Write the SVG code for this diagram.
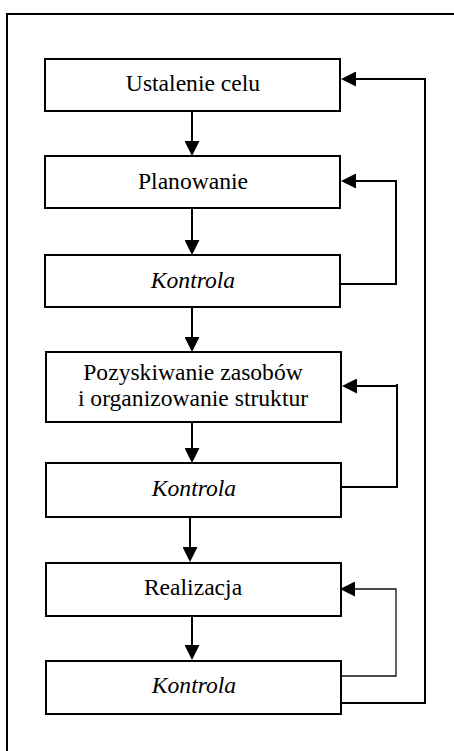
<svg xmlns="http://www.w3.org/2000/svg" width="454" height="751" viewBox="0 0 454 751">
<style>
.box{fill:#fff;stroke:#000;stroke-width:2}
.t{font-family:'Liberation Serif','Times New Roman',serif;font-size:23.6px;text-anchor:middle;fill:#000}
.i{font-style:italic}
.c{fill:none;stroke:#000;stroke-width:2}
.thin{stroke-width:1.3;stroke:#111}
</style>
<defs>
<marker id="ah" viewBox="0 0 15 15" refX="7" refY="7.5" markerWidth="15" markerHeight="15" markerUnits="userSpaceOnUse" orient="auto">
<path d="M0,0 L15,7.5 L0,15 Z" fill="#000"/>
</marker>
</defs>
<rect width="454" height="751" fill="#fff"/>
<path d="M7,751 V14 H454" fill="none" stroke="#000" stroke-width="2"/>
<g id="connectors">
<path class="c" d="M192,111 V148" marker-end="url(#ah)"/>
<path class="c" d="M192,208 V247" marker-end="url(#ah)"/>
<path class="c" d="M192,307 V344" marker-end="url(#ah)"/>
<path class="c" d="M192,422 V455" marker-end="url(#ah)"/>
<path class="c" d="M190,517 V554" marker-end="url(#ah)"/>
<path class="c" d="M192,616 V652" marker-end="url(#ah)"/>
<path class="c" d="M338,703 H425 V79 H349" marker-end="url(#ah)"/>
<path class="c" d="M339,284 H396 V181 H349" marker-end="url(#ah)"/>
<path class="c" d="M338,487 H397 V384"/>
<path class="c" d="M397,386 H350" marker-end="url(#ah)"/>
<path class="c thin" d="M338,676 H396 V589 H348" marker-end="url(#ah)"/>
</g>
<g id="n1"><rect class="box" x="45" y="59" width="295" height="52"/><text class="t" x="193" y="91">Ustalenie celu</text></g>
<g id="n2"><rect class="box" x="45" y="156" width="295" height="52"/><text class="t" x="193" y="189">Planowanie</text></g>
<g id="n3"><rect class="box" x="45" y="255" width="295" height="52"/><text class="t i" x="193" y="288">Kontrola</text></g>
<g id="n4"><rect class="box" x="46" y="352" width="295" height="70"/><text class="t" x="193" y="380">Pozyskiwanie zasobów</text><text class="t" x="193" y="406">i organizowanie struktur</text></g>
<g id="n5"><rect class="box" x="46" y="463" width="295" height="54"/><text class="t i" x="194" y="496">Kontrola</text></g>
<g id="n6"><rect class="box" x="46" y="563" width="295" height="53"/><text class="t" x="193" y="595">Realizacja</text></g>
<g id="n7"><rect class="box" x="46" y="661" width="295" height="53"/><text class="t i" x="194" y="693">Kontrola</text></g>
</svg>
